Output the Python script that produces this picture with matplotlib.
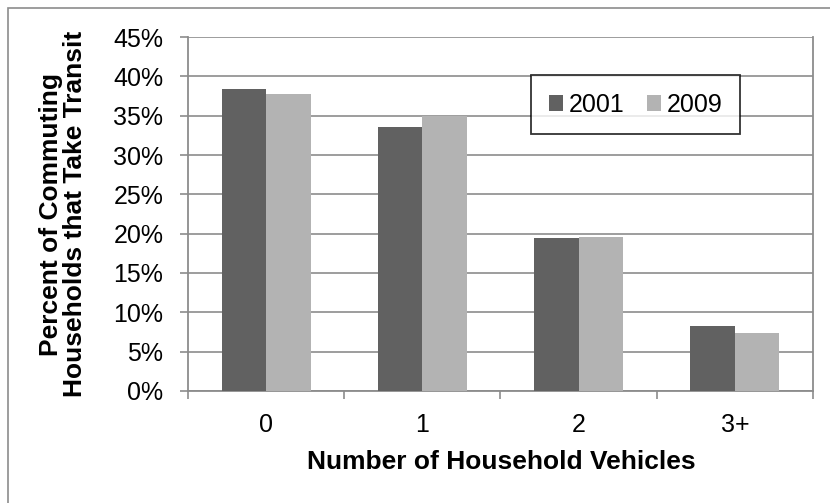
import matplotlib
matplotlib.use("Agg")
import matplotlib.pyplot as plt
from matplotlib.patches import Rectangle
import numpy as np

categories = ["0", "1", "2", "3+"]
series_2001 = [38.4, 33.6, 19.4, 8.2]
series_2009 = [37.7, 35.0, 19.6, 7.4]
y_ticks = [0, 5, 10, 15, 20, 25, 30, 35, 40, 45]

plt.rcParams['font.family'] = ['Liberation Sans', 'DejaVu Sans']

FS = 18
TFS = 19

fig = plt.figure(figsize=(8.3, 5.03), dpi=100)
ax = fig.add_axes([0.2265, 0.2227, 0.9795 - 0.2265, 0.9264 - 0.2227])

# figure frame (only top/left visible in reference)
fig.patches.append(Rectangle((8 / 830, -0.1), 1.2, 1 - 8 / 503 + 0.1, transform=fig.transFigure,
                             fill=False, edgecolor='#8c8c8c', linewidth=1.2, zorder=0))

x = np.arange(len(categories))
w = 0.285
ax.bar(x - w / 2, series_2001, width=w, color='#616161', label='2001', zorder=3)
ax.bar(x + w / 2, series_2009, width=w, color='#b3b3b3', label='2009', zorder=3)

ax.set_xlim(-0.5, 3.5)
ax.set_ylim(0, 45)
ax.set_yticks(y_ticks)
ax.set_yticklabels([f"{t}%" for t in y_ticks], fontsize=FS)
ax.yaxis.grid(True, color='#8c8c8c', linewidth=1.2, zorder=0)
ax.set_axisbelow(True)

ax.set_xticks([-0.5, 0.5, 1.5, 2.5, 3.5])
ax.set_xticklabels([])
ax.set_xticks(x, minor=True)
ax.set_xticklabels(categories, minor=True, fontsize=FS)
ax.tick_params(axis='x', which='major', length=5.8, color='#8c8c8c', width=1.2, direction='out')
ax.tick_params(axis='x', which='minor', length=0, pad=16)
ax.tick_params(axis='y', length=5.8, color='#8c8c8c', width=1.2, direction='out', pad=12)

for s in ['left', 'bottom', 'right']:
    ax.spines[s].set_color('#8c8c8c')
    ax.spines[s].set_linewidth(1.3)
ax.spines['top'].set_visible(False)

ax.set_xlabel("Number of Household Vehicles", fontsize=TFS, fontweight='bold')
ax.xaxis.set_label_coords(0.5016, -0.168)
ax.set_ylabel("Percent of Commuting\nHouseholds that Take Transit", fontsize=TFS,
              fontweight='bold', linespacing=1.0, va='center')
ax.yaxis.set_label_coords(-0.2, 0.5)

leg = ax.legend(loc='upper left', bbox_to_anchor=(0.549, 0.892), ncol=2, fontsize=FS,
                frameon=True, fancybox=False, edgecolor='black', handlelength=0.56,
                handleheight=0.6, handletextpad=0.24, columnspacing=0.9, borderpad=0.7,
                borderaxespad=0)
leg.get_frame().set_linewidth(1.3)

fig.savefig("out.png", dpi=100)
